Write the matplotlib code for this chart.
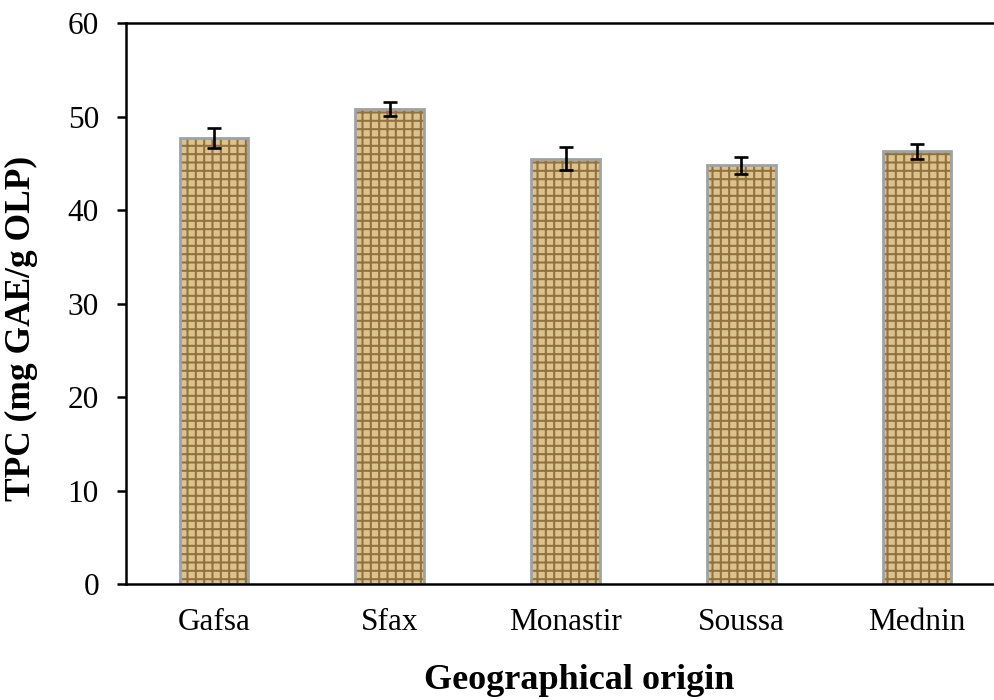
import matplotlib
matplotlib.use("Agg")
import matplotlib.pyplot as plt
import numpy as np

regions = ["Gafsa", "Sfax", "Monastir", "Soussa", "Mednin"]
tpc = [47.7, 50.8, 45.5, 44.8, 46.3]
tpc_err = [1.1, 0.75, 1.2, 0.9, 0.8]
yticks = [0, 10, 20, 30, 40, 50, 60]

plt.rcParams["font.family"] = ["Liberation Serif", "DejaVu Serif"]
plt.rcParams["hatch.linewidth"] = 1.5

fig = plt.figure(figsize=(9.95, 7.0), dpi=100)
ax = fig.add_axes([0.1266, 0.1657, 1.0101 - 0.1266, 0.967 - 0.1657])

x = np.arange(len(regions))
bars = ax.bar(x, tpc, width=0.39, color="#dcc38d", edgecolor="#9aa3a8",
              linewidth=2.0, hatch="++", zorder=2)
for b in bars:
    b._hatch_color = matplotlib.colors.to_rgba("#937240")
ax.errorbar(x, tpc, yerr=tpc_err, fmt="none", ecolor="black", elinewidth=1.9,
            capsize=5, capthick=1.9, zorder=3)

ax.set_xlim(-0.5, 4.5)
ax.set_ylim(0, 60)
ax.set_yticks(yticks)
ax.set_xticks(x)
ax.set_xticklabels(regions)
ax.tick_params(axis="x", length=0, labelsize=22.5, pad=17)
ax.tick_params(axis="y", length=6.5, width=1.8, direction="out", labelsize=22.5, pad=13)
for s in ["left", "bottom", "top"]:
    ax.spines[s].set_linewidth(1.8)
ax.spines["right"].set_visible(False)

fig.text(0.022, 0.531, "TPC (mg GAE/g OLP)", rotation=90, ha="center", va="center",
         fontsize=25.5, fontweight="bold")
fig.text(0.582, 0.028, "Geographical origin", ha="center", va="center",
         fontsize=26, fontweight="bold")

fig.savefig("out.png", dpi=100)
